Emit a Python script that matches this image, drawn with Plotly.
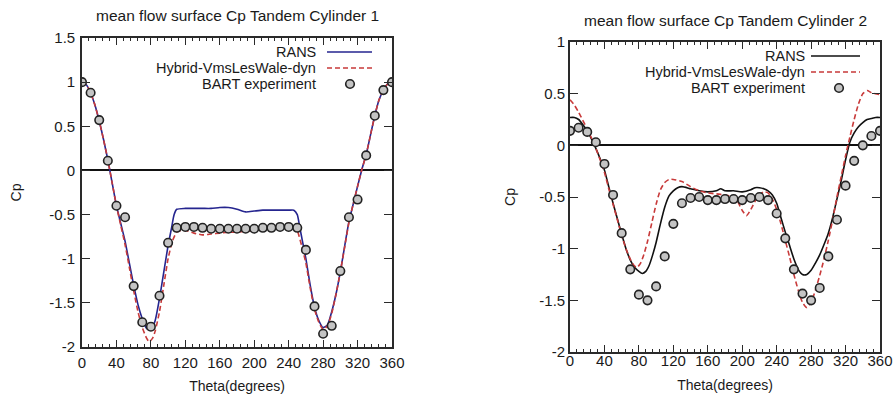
import plotly.graph_objects as go

# ---------------- Data: Cylinder 1 ----------------
theta_rans1 = [0, 5, 10, 15, 20, 25, 30, 35, 40, 45, 50, 55, 60, 65, 70, 75, 80, 85, 90, 95, 100, 104, 107, 110,
               120, 130, 140, 150, 160, 170, 180, 190, 200, 210, 220, 230, 240, 246, 250, 253, 256, 260, 265, 270,
               275, 280, 285, 290, 295, 300, 305, 310, 315, 320, 325, 330, 335, 340, 345, 350, 355, 360]
cp_rans1 = [1.0, 0.97, 0.88, 0.74, 0.56, 0.35, 0.12, -0.14, -0.4, -0.6, -0.8, -1.05, -1.3, -1.52, -1.68, -1.79,
            -1.81, -1.7, -1.45, -1.15, -0.85, -0.65, -0.5, -0.44,
            -0.43, -0.43, -0.43, -0.43, -0.42, -0.42, -0.44, -0.47, -0.46, -0.45, -0.45, -0.45, -0.45, -0.45,
            -0.5, -0.65, -0.8, -1.0, -1.3, -1.55, -1.7, -1.78, -1.75, -1.6, -1.4, -1.15, -0.86, -0.58, -0.38,
            -0.18, 0.01, 0.18, 0.4, 0.62, 0.8, 0.91, 0.98, 1.0]

theta_hyb1 = [0, 5, 10, 15, 20, 25, 30, 35, 40, 45, 50, 55, 60, 65, 70, 75, 78, 82, 85, 90, 95, 100, 105, 110,
              115, 120, 130, 140, 150, 160, 170, 180, 190, 200, 210, 220, 230, 240, 246, 250, 255, 260, 265, 270,
              275, 280, 285, 290, 295, 300, 305, 310, 315, 320, 325, 330, 335, 340, 345, 350, 355, 360]
cp_hyb1 = [1.0, 0.97, 0.88, 0.74, 0.56, 0.35, 0.12, -0.14, -0.4, -0.62, -0.84, -1.1, -1.36, -1.6, -1.78, -1.9,
           -1.94, -1.9, -1.82, -1.6, -1.3, -1.0, -0.8, -0.7,
           -0.68, -0.68, -0.71, -0.73, -0.72, -0.71, -0.7, -0.7, -0.69, -0.68, -0.66, -0.64, -0.62, -0.6, -0.62,
           -0.68, -0.85, -1.05, -1.33, -1.57, -1.72, -1.8, -1.76, -1.62, -1.4, -1.15, -0.87, -0.59, -0.38,
           -0.18, 0.01, 0.18, 0.4, 0.62, 0.8, 0.91, 0.98, 1.0]

theta_exp1 = [0, 10, 20, 30, 40, 50, 60, 70, 80, 90, 100, 110, 120, 130, 140, 150, 160, 170, 180, 190, 200,
              210, 220, 230, 240, 250, 260, 270, 280, 290, 300, 310, 320, 330, 340, 350, 360]
cp_exp1 = [1.0, 0.88, 0.57, 0.11, -0.4, -0.53, -1.31, -1.72, -1.77, -1.42, -0.82, -0.65, -0.64, -0.64, -0.65,
           -0.66, -0.66, -0.66, -0.66, -0.66, -0.66, -0.65, -0.65, -0.64, -0.64, -0.65, -0.9, -1.54, -1.85,
           -1.76, -1.14, -0.53, -0.33, 0.17, 0.62, 0.91, 1.0]

# ---------------- Data: Cylinder 2 ----------------
theta_rans2 = [0, 5, 10, 15, 20, 25, 30, 35, 40, 45, 50, 55, 60, 65, 70, 75, 80, 84, 88, 92, 96, 100, 105, 110,
               115, 120, 125, 130, 140, 150, 160, 170, 175, 180, 190, 200, 210, 215, 220, 225, 230, 235, 240, 245,
               250, 255, 260, 265, 270, 275, 280, 285, 290, 295, 300, 305, 310, 315, 320, 325, 330, 335, 340, 345,
               350, 355, 360]
cp_rans2 = [0.27, 0.27, 0.25, 0.2, 0.14, 0.06, -0.03, -0.13, -0.24, -0.4, -0.56, -0.71, -0.86, -1.0, -1.11, -1.18,
            -1.22, -1.24, -1.22, -1.16, -1.06, -0.94, -0.76, -0.6, -0.49, -0.44, -0.41, -0.4, -0.42, -0.44, -0.45,
            -0.44, -0.42, -0.44, -0.44, -0.45, -0.43, -0.41, -0.41, -0.42, -0.44, -0.48, -0.56, -0.7, -0.84, -0.97,
            -1.1, -1.2, -1.25, -1.25, -1.21, -1.14, -1.06, -0.96, -0.85, -0.7, -0.52, -0.34, -0.14, 0.03, 0.12,
            0.18, 0.22, 0.25, 0.26, 0.27, 0.27]

theta_hyb2 = [0, 5, 10, 15, 20, 25, 30, 35, 40, 45, 50, 55, 60, 65, 70, 75, 78, 82, 86, 90, 95, 100, 105, 110,
              115, 120, 130, 140, 150, 160, 170, 180, 190, 195, 200, 205, 210, 215, 220, 225, 230, 235, 240, 245,
              250, 255, 260, 265, 270, 275, 280, 285, 290, 295, 300, 305, 310, 315, 320, 325, 330, 335, 340, 345,
              350, 355, 360]
cp_hyb2 = [0.44, 0.39, 0.32, 0.24, 0.16, 0.07, -0.03, -0.14, -0.26, -0.42, -0.57, -0.72, -0.87, -1.0, -1.1, -1.17,
           -1.18, -1.14, -1.05, -0.93, -0.75, -0.57, -0.43, -0.36, -0.33, -0.33, -0.35, -0.4, -0.44, -0.46, -0.47,
           -0.48, -0.5, -0.55, -0.63, -0.68, -0.62, -0.54, -0.48, -0.45, -0.46, -0.52, -0.62, -0.76, -0.92, -1.08,
           -1.25, -1.4, -1.52, -1.57, -1.52, -1.4, -1.26, -1.1, -0.92, -0.72, -0.5, -0.3, -0.1, 0.08, 0.25, 0.4,
           0.5, 0.53, 0.51, 0.5, 0.49]

theta_exp2 = [0, 10, 20, 30, 40, 50, 60, 70, 80, 90, 100, 110, 120, 130, 140, 150, 160, 170, 180, 190, 200,
              210, 220, 230, 240, 250, 260, 270, 280, 290, 300, 310, 320, 330, 340, 350, 360]
cp_exp2 = [0.14, 0.17, 0.13, 0.03, -0.18, -0.48, -0.85, -1.2, -1.445, -1.5, -1.365, -1.075, -0.76, -0.56, -0.51,
           -0.5, -0.53, -0.53, -0.52, -0.52, -0.53, -0.51, -0.5, -0.53, -0.66, -0.9, -1.2, -1.435, -1.5, -1.38,
           -1.075, -0.72, -0.39, -0.15, 0.0, 0.09, 0.14]

x_ticks = [0, 40, 80, 120, 160, 200, 240, 280, 320, 360]
y_ticks1 = [-2, -1.5, -1, -0.5, 0, 0.5, 1, 1.5]
y_labels1 = ["-2", "-1.5", "-1", "-0.5", "0", "0.5", "1", "1.5"]
y_ticks2 = [-2, -1.5, -1, -0.5, 0, 0.5, 1]
y_labels2 = ["-2", "-1.5", "-1", "-0.5", "0", "0.5", "1"]

titles = ["mean flow surface Cp Tandem Cylinder 1", "mean flow surface Cp Tandem Cylinder 2"]
legend_names = ["RANS", "Hybrid-VmsLesWale-dyn", "BART experiment"]

# ---------------- Styling ----------------
W, H = 894, 403
FONT = "Liberation Sans, Arial, sans-serif"
TXT = "#1a1a1a"
RANS1_COLOR = "#25258f"
RANS2_COLOR = "#111111"
HYB_COLOR = "#c83a3a"
DASH = "5px,3px"
MARKER = dict(symbol="circle", size=8.5, color="#c4c4c4", line=dict(color="#222222", width=1.6))

fig = go.Figure()

def add_panel(xa, ya, th_r, cp_r, th_h, cp_h, th_e, cp_e, rans_color):
    fig.add_trace(go.Scatter(x=th_r, y=cp_r, mode="lines", xaxis=xa, yaxis=ya,
                             line=dict(color=rans_color, width=1.6, shape="spline", smoothing=0.6),
                             showlegend=False, name="RANS"))
    fig.add_trace(go.Scatter(x=th_h, y=cp_h, mode="lines", xaxis=xa, yaxis=ya,
                             line=dict(color=HYB_COLOR, width=1.6, dash=DASH, shape="spline", smoothing=0.6),
                             showlegend=False, name="Hybrid-VmsLesWale-dyn"))
    fig.add_trace(go.Scatter(x=th_e, y=cp_e, mode="markers", xaxis=xa, yaxis=ya,
                             marker=MARKER, showlegend=False, name="BART experiment"))

add_panel("x", "y", theta_rans1, cp_rans1, theta_hyb1, cp_hyb1, theta_exp1, cp_exp1, RANS1_COLOR)
add_panel("x2", "y2", theta_rans2, cp_rans2, theta_hyb2, cp_hyb2, theta_exp2, cp_exp2, RANS2_COLOR)

def px_x(p):
    return p / W

def px_y(p):
    return 1 - p / H

axis_common = dict(
    showline=True, linecolor="#2a2a2a", linewidth=1.6, mirror="allticks", automargin=False,
    ticks="inside", tickcolor="#2a2a2a", tickwidth=1.3,
    showgrid=False, tickfont=dict(family=FONT, size=15, color=TXT),
)

def x_axis(standoff_lbl, standoff_title):
    return dict(axis_common, range=[0, 360], tickvals=x_ticks, ticklen=7, ticklabelstandoff=standoff_lbl,
                minor=dict(dtick=8, ticks="inside", ticklen=3, tickcolor="#2a2a2a", tickwidth=1.1, showgrid=False),
                zeroline=False,
                title=dict(text="Theta(degrees)", font=dict(family=FONT, size=14, color=TXT),
                           standoff=standoff_title))

fig.update_layout(
    width=W, height=H, margin=dict(l=0, r=0, t=0, b=0, autoexpand=False),
    paper_bgcolor="white", plot_bgcolor="white", showlegend=False,
    xaxis=dict(x_axis(1, 11), domain=[px_x(82), px_x(392)], anchor="y"),
    yaxis=dict(axis_common, domain=[px_y(347), px_y(38)], anchor="x", range=[-2, 1.5],
               tickvals=y_ticks1, ticktext=y_labels1, ticklen=8, ticklabelstandoff=2,
               zeroline=True, zerolinecolor="#111111", zerolinewidth=1.6,
               title=dict(text="Cp", font=dict(family=FONT, size=14, color=TXT), standoff=24)),
    xaxis2=dict(x_axis(-6, 12), domain=[px_x(570), px_x(880)], anchor="y2"),
    yaxis2=dict(axis_common, domain=[px_y(352), px_y(42)], anchor="x2", range=[-2, 1],
                tickvals=y_ticks2, ticktext=y_labels2, ticklen=8, ticklabelstandoff=0,
                zeroline=True, zerolinecolor="#111111", zerolinewidth=1.6,
                title=dict(text="Cp", font=dict(family=FONT, size=14, color=TXT), standoff=20)),
)

# Titles
fig.add_annotation(text=titles[0], x=px_x(237), y=px_y(15), xref="paper", yref="paper",
                   showarrow=False, font=dict(family=FONT, size=15.5, color=TXT), xanchor="center", yanchor="middle")
fig.add_annotation(text=titles[1], x=px_x(725), y=px_y(20), xref="paper", yref="paper",
                   showarrow=False, font=dict(family=FONT, size=15.5, color=TXT), xanchor="center", yanchor="middle")

# gnuplot-style legends (text right-aligned, sample on the right)
def add_key(text_right, sample_x0, sample_x1, marker_x, rows, rans_color):
    for name, yy in zip(legend_names, rows):
        fig.add_annotation(text=name, x=px_x(text_right), y=px_y(yy), xref="paper", yref="paper",
                           showarrow=False, xanchor="right", yanchor="middle", borderpad=0,
                           font=dict(family=FONT, size=14.5, color=TXT))
    fig.add_shape(type="line", xref="paper", yref="paper", x0=px_x(sample_x0), x1=px_x(sample_x1),
                  y0=px_y(rows[0]), y1=px_y(rows[0]), line=dict(color=rans_color, width=1.6))
    fig.add_shape(type="line", xref="paper", yref="paper", x0=px_x(sample_x0), x1=px_x(sample_x1),
                  y0=px_y(rows[1]), y1=px_y(rows[1]), line=dict(color=HYB_COLOR, width=1.6, dash=DASH))
    fig.add_shape(type="circle", xref="paper", yref="paper", xsizemode="pixel", ysizemode="pixel",
                  xanchor=px_x(marker_x), yanchor=px_y(rows[2]), x0=-4.3, x1=4.3, y0=-4.3, y1=4.3,
                  fillcolor="#c4c4c4", line=dict(color="#222222", width=1.6))

add_key(317, 327, 372, 350, [52, 68, 84], RANS1_COLOR)
add_key(806, 811, 860, 839, [56, 72, 88], RANS2_COLOR)

fig.write_html("out.html", config=dict(displayModeBar=False),
               post_script=["document.body.style.margin='0';document.body.style.overflow='hidden';"])
